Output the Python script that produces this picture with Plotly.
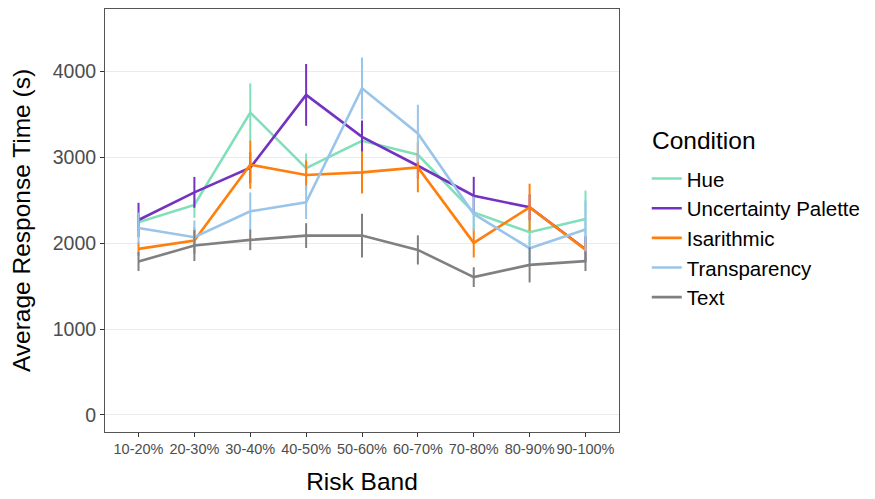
import plotly.graph_objects as go

bands = ["10-20%", "20-30%", "30-40%", "40-50%", "50-60%", "60-70%", "70-80%", "80-90%", "90-100%"]

conditions = ["Hue", "Uncertainty Palette", "Isarithmic", "Transparency", "Text"]

hue_mean = [2244, 2446, 3523, 2876, 3194, 3031, 2360, 2128, 2283]
hue_err = [100, 150, 340, 170, 200, 150, 200, 150, 330]

up_mean = [2271, 2593, 2880, 3729, 3240, 2903, 2554, 2419, 1930]
up_err = [200, 180, 180, 360, 190, 150, 220, 150, 150]

isa_mean = [1934, 2031, 2915, 2795, 2826, 2884, 2004, 2419, 1926]
isa_err = [80, 150, 280, 170, 245, 290, 170, 275, 100]

tra_mean = [2178, 2070, 2372, 2477, 3806, 3279, 2341, 1942, 2159]
tra_err = [180, 195, 220, 195, 360, 335, 200, 150, 340]

txt_mean = [1787, 1973, 2039, 2089, 2089, 1922, 1605, 1748, 1791]
txt_err = [110, 180, 120, 145, 255, 170, 115, 205, 115]

means = [hue_mean, up_mean, isa_mean, tra_mean, txt_mean]
errs = [hue_err, up_err, isa_err, tra_err, txt_err]
colors = ["#80E0BA", "#7432C0", "#FF7F0E", "#9AC5EA", "#808080"]

fig = go.Figure()
for name, m, e, c in zip(conditions, means, errs, colors):
    fig.add_trace(go.Scatter(
        x=list(range(len(bands))), y=m, name=name, mode="lines",
        legendgroup=name,
        line=dict(color=c, width=2.6),
        error_y=dict(type="data", array=e, visible=True, color=c, thickness=2, width=0),
    ))

font_family = "Liberation Sans, Arial, sans-serif"
# page body adds an 8px offset; figure sized to fit the window
fig.update_layout(
    width=867, height=491,
    margin=dict(l=97, r=256, t=1, b=67),
    paper_bgcolor="white", plot_bgcolor="white",
    font=dict(family=font_family, color="black"),
    showlegend=True,
    legend=dict(
        font=dict(size=20.5, color="black"),
        x=1.054, xanchor="left", y=0.646, yanchor="top",
        bgcolor="rgba(0,0,0,0)", tracegroupgap=0, traceorder="grouped",
        itemwidth=30,
    ),
    annotations=[dict(
        text="Condition", x=1.06, y=0.688, xref="paper", yref="paper",
        xanchor="left", yanchor="middle", showarrow=False,
        font=dict(size=24.5, color="black"),
    )],
    xaxis=dict(
        tickmode="array", tickvals=list(range(len(bands))), ticktext=bands,
        range=[-0.6, 8.6], showgrid=False, zeroline=False, automargin=False,
        showline=True, linecolor="#555555", linewidth=1, mirror=True,
        ticks="outside", ticklen=4, tickcolor="#333333", tickangle=0,
        tickfont=dict(size=14.5, color="#4D4D4D"),
        title=dict(text="Risk Band", font=dict(size=24.5, color="black"), standoff=16),
    ),
    yaxis=dict(
        range=[-200, 4730], tickvals=[0, 1000, 2000, 3000, 4000],
        showgrid=True, gridcolor="#EBEBEB", gridwidth=1.3, zeroline=False, automargin=False,
        showline=True, linecolor="#555555", linewidth=1, mirror=True,
        ticks="outside", ticklen=4, tickcolor="#333333",
        tickfont=dict(size=19.5, color="#4D4D4D"),
        title=dict(text="Average Response Time (s)", font=dict(size=24.5, color="black"), standoff=17),
    ),
)

fig.write_html("out.html")
